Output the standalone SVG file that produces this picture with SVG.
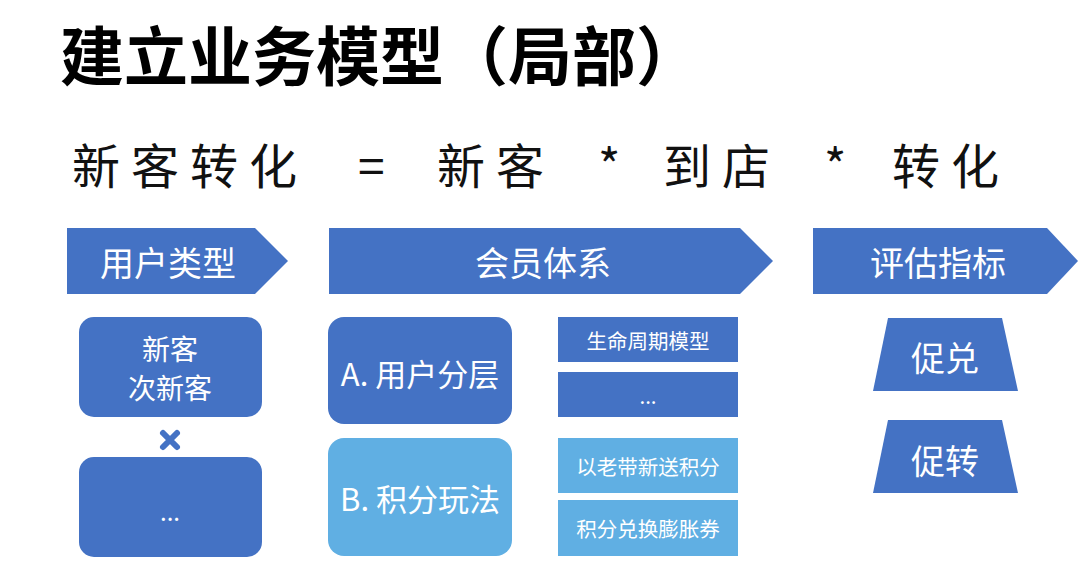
<svg xmlns="http://www.w3.org/2000/svg" width="1080" height="576" viewBox="0 0 1080 576">
<style>
text{font-family:"Noto Sans CJK SC","Microsoft YaHei",sans-serif;}
.dk{fill:#4472C4;}
.lt{fill:#60AFE3;}
.w{fill:#FFFFFF;text-anchor:middle;dominant-baseline:central;}
.title{font-size:64px;font-weight:bold;fill:#000;}
.f{font-size:48px;fill:#111;letter-spacing:11px;}
.h{font-size:34px;}
.s{font-size:20.5px;}
</style>
<rect width="1080" height="576" fill="#FFFFFF"/>
<g id="title"><text class="title" x="60" y="80">建立业务模型（局部）</text></g>
<g id="formula">
<text class="f" x="72" y="184">新客转化</text>
<text class="f" x="358" y="184">=</text>
<text class="f" x="437" y="184">新客</text>
<text class="f" x="598" y="184">*</text>
<text class="f" x="663" y="184">到店</text>
<text class="f" x="824" y="184">*</text>
<text class="f" x="892" y="184">转化</text>
</g>
<g id="h1"><polygon class="dk" points="67,228 255,228 288,261 255,294 67,294"/><text class="w h" x="168" y="261">用户类型</text></g>
<g id="h2"><polygon class="dk" points="329,228 740,228 773,261 740,294 329,294"/><text class="w h" x="543" y="261">会员体系</text></g>
<g id="h3"><polygon class="dk" points="813,228 1047,228 1078,261 1047,294 813,294"/><text class="w h" x="938" y="261">评估指标</text></g>
<g id="u1"><rect class="dk" x="79" y="317" width="183" height="100" rx="15"/><text class="w" style="font-size:28px" x="170" y="348">新客</text><text class="w" style="font-size:28px" x="170" y="387">次新客</text></g>
<g id="cross"><path d="M163,433 L177,447 M177,433 L163,447" stroke="#4472C4" stroke-width="6" stroke-linecap="round"/></g>
<g id="u2"><rect class="dk" x="79" y="457" width="183" height="100" rx="15"/><text class="w" style="font-size:24px" x="170" y="510">...</text></g>
<g id="a"><rect class="dk" x="328" y="317" width="184" height="107" rx="16"/><text class="w" style="font-size:31px" x="420" y="372">A. 用户分层</text></g>
<g id="b"><rect class="lt" x="328" y="438" width="184" height="118" rx="16"/><text class="w" style="font-size:31px" x="420" y="497">B. 积分玩法</text></g>
<g id="a1"><rect class="dk" x="558" y="317" width="180" height="45"/><text class="w s" x="648" y="340">生命周期模型</text></g>
<g id="a2"><rect class="dk" x="558" y="372" width="180" height="45"/><text class="w s" x="648" y="395">...</text></g>
<g id="b1"><rect class="lt" x="558" y="438" width="180" height="55"/><text class="w s" x="648" y="466">以老带新送积分</text></g>
<g id="b2"><rect class="lt" x="558" y="500" width="180" height="56"/><text class="w s" x="648" y="528">积分兑换膨胀券</text></g>
<g id="t1"><polygon class="dk" points="888,318 1002,318 1018,391 873,391"/><text class="w h" x="945" y="356">促兑</text></g>
<g id="t2"><polygon class="dk" points="888,420 1002,420 1018,493 873,493"/><text class="w h" x="945" y="459">促转</text></g>
<g id="connectors"></g>
</svg>
